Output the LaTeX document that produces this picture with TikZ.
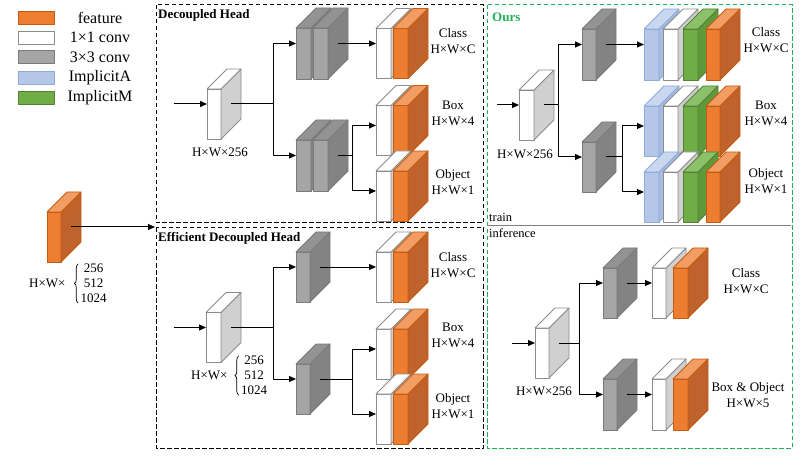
\documentclass[tikz,border=0pt]{standalone}
\usepackage{fontspec}
\setmainfont{Liberation Serif}
\usetikzlibrary{arrows.meta,decorations.pathreplacing}

\definecolor{featF}{HTML}{ED7D31}
\definecolor{featS}{HTML}{C0622B}
\definecolor{featT}{HTML}{F29D63}
\definecolor{featE}{HTML}{C55A11}
\definecolor{onebyF}{HTML}{FFFFFF}
\definecolor{onebyS}{HTML}{D0D0D0}
\definecolor{onebyT}{HTML}{FFFFFF}
\definecolor{onebyE}{HTML}{8C8C8C}
\definecolor{threebyF}{HTML}{A5A5A5}
\definecolor{threebyS}{HTML}{838383}
\definecolor{threebyT}{HTML}{939393}
\definecolor{threebyE}{HTML}{7A7A7A}
\definecolor{implAF}{HTML}{B4C7E7}
\definecolor{implAS}{HTML}{A6BCE2}
\definecolor{implAT}{HTML}{C9D7EF}
\definecolor{implAE}{HTML}{8FAADC}
\definecolor{implMF}{HTML}{70AD47}
\definecolor{implMS}{HTML}{5E9A3A}
\definecolor{implMT}{HTML}{8DC169}
\definecolor{implME}{HTML}{538135}
\definecolor{oursgreen}{HTML}{1FAF55}

\tikzset{
  face/.style={rectangle, inner sep=0pt, outer sep=0pt, line width=0.8pt},
  faceline/.style={line width=0.8pt},
  arr/.style={-{Triangle[length=7pt,width=6pt]}, line width=1pt},
  panel/.style={dash pattern=on 4.5pt off 2.5pt, line width=1pt},
  lbl/.style={align=center, inner sep=0pt},
  title/.style={anchor=west, inner sep=0pt, font=\fontsize{13}{16}\selectfont\bfseries},
  dims/.style={inner sep=0pt, font=\fontsize{13}{15}\selectfont},
  curly/.style={decorate, decoration={brace, amplitude=4pt}, line width=0.7pt},
  swatch/.style={rectangle, minimum width=36, minimum height=13, inner sep=0pt, line width=0.8pt},
  keytext/.style={inner sep=0pt, font=\fontsize{16}{19}\selectfont}
}

% name, x, y (front centre), width, height, colour set
\newcommand{\cuboid}[6]{%
  \node[face, draw=#6E, fill=#6F, minimum width=#4, minimum height=#5] (#1) at (#2,#3) {};
  \filldraw[faceline, draw=#6E, fill=#6S] (#1.north east) -- ++(\cubed,-\cubed) -- ++(0,#5) -- (#1.south east) -- cycle;
  \filldraw[faceline, draw=#6E, fill=#6T] (#1.north west) -- ++(\cubed,-\cubed) -- ++(#4,0) -- (#1.north east) -- cycle;
}

\begin{document}
\begin{tikzpicture}[x=1pt, y=-1pt, line join=round, font=\fontsize{13}{16}\selectfont]
  \pgfmathsetmacro{\cubed}{20}
  \useasboundingbox (0,0) rectangle (806,457);

  % legend
  \node[swatch, fill=featF, draw=featE] (kfeat) at (36,17.5) {};
  \node[swatch, fill=onebyF, draw=onebyE] (koneby) at (36,37.5) {};
  \node[swatch, fill=threebyF, draw=threebyE] (kthreeby) at (36,57) {};
  \node[swatch, fill=implAF, draw=implAE] (kimplA) at (36,78) {};
  \node[swatch, fill=implMF, draw=implME] (kimplM) at (36,98) {};
  \node[keytext] (tfeat) at (100,17.5) {feature};
  \node[keytext] (toneby) at (100,37.5) {1×1 conv};
  \node[keytext] (tthreeby) at (100,57) {3×3 conv};
  \node[keytext] (timplA) at (100,78) {ImplicitA};
  \node[keytext] (timplM) at (100,98) {ImplicitM};

  % panels
  \draw[panel] (156,5) rectangle (483.5,223);
  \draw[panel] (156,228) rectangle (483.5,448);
  \draw[panel, draw=oursgreen] (487,5) rectangle (792,448);
  \draw[gray, line width=0.8pt] (487,225) -- (791,225);
  \node[title] (tdec) at (158,15) {Decoupled Head};
  \node[title] (teff) at (158,238) {Efficient Decoupled Head};
  \node[title, text=oursgreen] (tours) at (492,17) {Ours};
  \node[anchor=west, inner sep=0pt, font=\fontsize{12.5}{15}\selectfont] (ttrain) at (489,217) {train};
  \node[anchor=west, inner sep=0pt, font=\fontsize{12.5}{15}\selectfont] (tinf) at (489,233) {inference};

  % input feature
  \cuboid{feat}{54}{237}{14}{50}{feat}
  \coordinate (fend) at (155,227);
  \draw[arr] ([xshift=10pt,yshift=10pt]feat.east) -- (fend);
  \node[dims, anchor=west] (fdim) at (29,283) {H×W×};
  \node[dims, align=center] (fnum) at (93.5,283.5) {256\\512\\1024};
  \draw[curly] ([xshift=-2pt]fnum.south west) -- ([xshift=-2pt]fnum.north west);

  % decoupled head
  \coordinate (dsrc) at (174,104);
  \cuboid{din}{214}{114}{14}{50}{oneby}
  \draw[arr] (dsrc) -- ([yshift=10pt]din.west);
  \node[lbl] (ddim) at (220,152) {H×W×256};
  \cuboid{dca}{303.5}{53.5}{15}{51}{threeby}
  \cuboid{dcb}{320.5}{53.5}{15}{51}{threeby}
  \cuboid{dra}{303.5}{165.5}{15}{51}{threeby}
  \cuboid{drb}{320.5}{165.5}{15}{51}{threeby}
  \draw[arr] ([xshift=10pt,yshift=10pt]din.east) -- ++(42,0) coordinate (dsplit) |- ([yshift=10pt]dca.west);
  \draw[arr] (dsplit) |- ([yshift=10pt]dra.west);
  \cuboid{dcw}{383.5}{53.5}{15}{50}{oneby}
  \cuboid{dco}{400.5}{53.5}{15}{50}{feat}
  \cuboid{dbw}{383.5}{130.5}{15}{50}{oneby}
  \cuboid{dbo}{400.5}{130.5}{15}{50}{feat}
  \cuboid{dow}{383.5}{196}{15}{50}{oneby}
  \cuboid{doo}{400.5}{196}{15}{50}{feat}
  \draw[arr] ([xshift=10pt,yshift=10pt]dcb.east) -- ([yshift=10pt]dcw.west);
  \draw[arr] ([xshift=10pt,yshift=10pt]drb.east) -- ++(14,0) coordinate (dsplitb) |- ([yshift=5pt]dbw.west);
  \draw[arr] (dsplitb) |- ([yshift=5pt]dow.west);
  \node[lbl] (dcls) at (453,41) {Class\\H×W×C};
  \node[lbl] (dbox) at (453,113) {Box\\H×W×4};
  \node[lbl] (dobj) at (453,182.5) {Object\\H×W×1};

  % efficient decoupled head
  \coordinate (esrc) at (174,327.5);
  \cuboid{ein}{213.5}{337.5}{15}{50}{oneby}
  \draw[arr] (esrc) -- ([yshift=10pt]ein.west);
  \node[dims, anchor=west] (edim) at (191,375) {H×W×};
  \node[dims, align=center] (enum) at (254,375.5) {256\\512\\1024};
  \draw[curly] ([xshift=-2pt]enum.south west) -- ([xshift=-2pt]enum.north west);
  \cuboid{ega}{303}{277}{14}{50}{threeby}
  \cuboid{egb}{303}{389}{14}{50}{threeby}
  \draw[arr] ([xshift=10pt,yshift=10pt]ein.east) -- ++(42,0) coordinate (esplit) |- ([yshift=10pt]ega.west);
  \draw[arr] (esplit) |- ([yshift=10pt]egb.west);
  \cuboid{ecw}{383.5}{277}{15}{50}{oneby}
  \cuboid{eco}{400.5}{277}{15}{50}{feat}
  \cuboid{ebw}{383.5}{354}{15}{50}{oneby}
  \cuboid{ebo}{400.5}{354}{15}{50}{feat}
  \cuboid{eow}{383.5}{419}{15}{50}{oneby}
  \cuboid{eoo}{400.5}{419}{15}{50}{feat}
  \draw[arr] ([xshift=10pt,yshift=10pt]ega.east) -- ([yshift=10pt]ecw.west);
  \draw[arr] ([xshift=10pt,yshift=10pt]egb.east) -- ++(32,0) coordinate (esplitb) |- ([yshift=5pt]ebw.west);
  \draw[arr] (esplitb) |- ([yshift=5pt]eow.west);
  \node[lbl] (ecls) at (453,265.5) {Class\\H×W×C};
  \node[lbl] (ebox) at (453,335.5) {Box\\H×W×4};
  \node[lbl] (eobj) at (453,406.5) {Object\\H×W×1};

  % ours, train
  \coordinate (osrc) at (497,105);
  \cuboid{oin}{526.5}{115}{15}{50}{oneby}
  \draw[arr] (osrc) -- ([yshift=10pt]oin.west);
  \node[lbl] (odim) at (525,154) {H×W×256};
  \cuboid{oga}{589}{54.5}{14}{51}{threeby}
  \cuboid{ogb}{589}{167}{14}{50}{threeby}
  \draw[arr] ([xshift=10pt,yshift=10pt]oin.east) -- ++(14,0) coordinate (osplit) |- ([yshift=10pt]oga.west);
  \draw[arr] (osplit) |- ([yshift=10pt]ogb.west);
  \cuboid{oca}{651.5}{54.5}{15}{51}{implA}
  \cuboid{ocw}{670.5}{54.5}{15}{51}{oneby}
  \cuboid{ocm}{690.5}{54.5}{15}{51}{implM}
  \cuboid{ocf}{713}{54.5}{14}{51}{feat}
  \cuboid{oba}{651.5}{131}{15}{50}{implA}
  \cuboid{obw}{670.5}{131}{15}{50}{oneby}
  \cuboid{obm}{690.5}{131}{15}{50}{implM}
  \cuboid{obf}{713}{131}{14}{50}{feat}
  \cuboid{ooa}{651.5}{197}{15}{50}{implA}
  \cuboid{oow}{670.5}{197}{15}{50}{oneby}
  \cuboid{oom}{690.5}{197}{15}{50}{implM}
  \cuboid{oof}{713}{197}{14}{50}{feat}
  \draw[arr] ([xshift=10pt,yshift=10pt]oga.east) -- ([yshift=10pt]oca.west);
  \draw[arr] ([xshift=10pt,yshift=10pt]ogb.east) -- ++(16,0) coordinate (osplitb) |- ([yshift=5pt]oba.west);
  \draw[arr] (osplitb) |- ([yshift=5pt]ooa.west);
  \node[lbl] (ocls) at (766,40) {Class\\H×W×C};
  \node[lbl] (obox) at (766,113) {Box\\H×W×4};
  \node[lbl] (oobj) at (766,181.5) {Object\\H×W×1};

  % ours, inference
  \coordinate (isrc) at (512,343);
  \cuboid{iin}{542}{353}{14}{50}{oneby}
  \draw[arr] (isrc) -- ([yshift=10pt]iin.west);
  \node[lbl] (idim) at (544,391) {H×W×256};
  \cuboid{iga}{610}{293}{14}{50}{threeby}
  \cuboid{igb}{610}{404.5}{14}{51}{threeby}
  \draw[arr] ([xshift=10pt,yshift=10pt]iin.east) -- ++(20,0) coordinate (isplit) |- ([yshift=10pt]iga.west);
  \draw[arr] (isplit) |- ([yshift=10pt]igb.west);
  \cuboid{icw}{659}{293}{14}{50}{oneby}
  \cuboid{ico}{680.5}{293}{15}{50}{feat}
  \cuboid{ibw}{659}{404.5}{14}{51}{oneby}
  \cuboid{ibo}{680.5}{404.5}{15}{51}{feat}
  \draw[arr] ([xshift=10pt,yshift=10pt]iga.east) -- ([yshift=10pt]icw.west);
  \draw[arr] ([xshift=10pt,yshift=10pt]igb.east) -- ([yshift=10pt]ibw.west);
  \node[lbl] (icls) at (746,281) {Class\\H×W×C};
  \node[lbl] (iboxobj) at (748,395) {Box \& Object\\H×W×5};
\end{tikzpicture}
\end{document}
